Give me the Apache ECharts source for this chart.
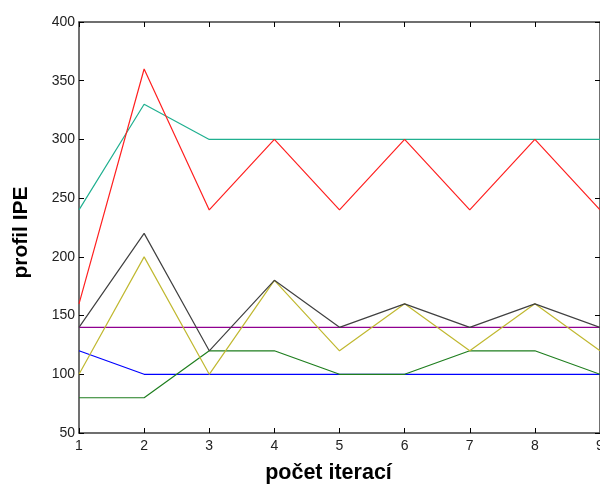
<!DOCTYPE html>
<html><head><meta charset="utf-8">
<script src="https://cdn.jsdelivr.net/npm/echarts@6/dist/echarts.min.js"></script>
<style>html,body{margin:0;padding:0;background:#fff}#c{width:600px;height:485px}</style>
</head><body><div id="c"></div>
<script>
var categories = [1,2,3,4,5,6,7,8,9];
var red    = [160,360,240,300,240,300,240,300,240];
var teal   = [240,330,300,300,300,300,300,300,300];
var black  = [140,220,120,180,140,160,140,160,140];
var yellow = [100,200,100,180,120,160,120,160,120];
var purple = [140,140,140,140,140,140,140,140,140];
var blue   = [120,100,100,100,100,100,100,100,100];
var green  = [80,80,120,120,100,100,120,120,100];
var yTicks = [50,100,150,200,250,300,350,400];

function pts(arr){ return arr.map(function(v,i){ return [categories[i], v]; }); }
var seriesDefs = [
  {d: purple, c: '#900090'},
  {d: blue, c: '#0000ff'},
  {d: green, c: '#1e7e1e'},
  {d: yellow, c: '#c0b830'},
  {d: black, c: '#404040'},
  {d: teal, c: '#20b090'},
  {d: red, c: '#ff2020'}
];
var axisLineStyle = {color:'#404040', width:1.5};
var lblFont = {fontFamily:'Liberation Sans, Arial', fontSize:14, color:'#222'};
var chart = echarts.init(document.getElementById('c'));
chart.setOption({
  animation:false,
  backgroundColor:'#fff',
  grid:{left:79, right:0, top:22, bottom:52, containLabel:false, outerBoundsMode:'none'},
  xAxis:[{
    type:'value', min:1, max:9, interval:1, position:'bottom',
    name:'počet iterací', nameLocation:'middle', nameGap:29,
    nameTextStyle:{fontFamily:'Liberation Sans, Arial', fontSize:21.5, fontWeight:'bold', color:'#000', padding:[0,22,0,0]},
    axisLine:{lineStyle:axisLineStyle}, axisTick:{inside:true, length:5, lineStyle:{color:'#000'}},
    axisLabel:Object.assign({margin:6}, lblFont),
    splitLine:{show:false}
  },{
    type:'value', min:1, max:9, interval:1, position:'top',
    axisLine:{lineStyle:axisLineStyle}, axisTick:{inside:true, length:5, lineStyle:{color:'#000'}},
    axisLabel:{show:false}, splitLine:{show:false}
  }],
  yAxis:[{
    type:'value', min:yTicks[0], max:yTicks[yTicks.length-1], interval:50, position:'left',
    name:'profil IPE', nameLocation:'middle', nameGap:47, nameRotate:90,
    nameTextStyle:{fontFamily:'Liberation Sans, Arial', fontSize:21, fontWeight:'bold', color:'#000', padding:[0,10,0,0]},
    axisLine:{show:true, lineStyle:axisLineStyle}, axisTick:{show:true, inside:true, length:5, lineStyle:{color:'#000'}},
    axisLabel:Object.assign({margin:4}, lblFont),
    splitLine:{show:false}
  },{
    type:'value', min:yTicks[0], max:yTicks[yTicks.length-1], interval:50, position:'right',
    axisLine:{show:true, lineStyle:axisLineStyle}, axisTick:{show:true, inside:true, length:5, lineStyle:{color:'#000'}},
    axisLabel:{show:false}, splitLine:{show:false}
  }],
  series: seriesDefs.map(function(s){
    return {type:'line', data:pts(s.d), showSymbol:false, symbol:'none',
      lineStyle:{color:s.c, width:1.2}, itemStyle:{color:s.c}};
  })
});
</script></body></html>
